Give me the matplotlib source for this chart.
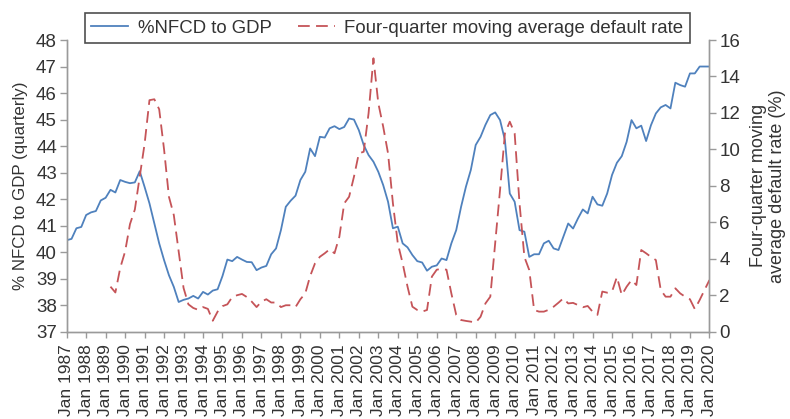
import numpy as np
import matplotlib
matplotlib.use("Agg")
import matplotlib.pyplot as plt

plt.rcParams['font.family'] = ['Liberation Sans', 'DejaVu Sans']

# Quarterly series, 1987 Q1 .. 2020 Q1
start_year = 1987
nfcd_to_gdp = [
    40.45, 40.5, 40.9, 40.95, 41.4, 41.5, 41.55, 41.95,
    42.05, 42.35, 42.25, 42.72, 42.65, 42.6, 42.63, 43.05,
    42.46, 41.84, 41.08, 40.33, 39.7, 39.13, 38.69, 38.12,
    38.2, 38.25, 38.35, 38.25, 38.5, 38.4, 38.55, 38.6,
    39.1, 39.72, 39.66, 39.82, 39.72, 39.63, 39.62, 39.32,
    39.42, 39.48, 39.92, 40.14, 40.83, 41.71, 41.94, 42.13,
    42.72, 43.03, 43.91, 43.62, 44.35, 44.32, 44.67, 44.75,
    44.64, 44.72, 45.04, 45.0, 44.6, 44.04, 43.66, 43.41,
    43.03, 42.53, 41.9, 40.9, 40.96, 40.33, 40.18, 39.89,
    39.66, 39.61, 39.3, 39.45, 39.5, 39.76, 39.7, 40.33,
    40.83, 41.71, 42.47, 43.1, 44.04, 44.35, 44.8, 45.17,
    45.27, 44.98, 44.23, 42.21, 41.9, 40.83, 40.77, 39.82,
    39.92, 39.92, 40.33, 40.43, 40.14, 40.08, 40.58, 41.08,
    40.89, 41.27, 41.61, 41.46, 42.09, 41.8, 41.75, 42.21,
    42.91, 43.37, 43.62, 44.16, 44.98, 44.67, 44.77, 44.19,
    44.79, 45.23, 45.46, 45.55, 45.42, 46.39, 46.3, 46.24,
    46.74, 46.74, 47.0, 47.0, 47.0,
]

# Four-quarter moving average default rate, first value in 1989 Q2
default_start_index = 9
default_rate = [
    2.47, 2.15, 3.5, 4.4, 5.9, 6.7, 8.5, 10.3,
    12.7, 12.75, 12.2, 10.0, 7.4, 6.4, 4.4, 2.4,
    1.5, 1.3, 1.2, 1.35, 1.25, 0.6, 1.1, 1.4,
    1.5, 1.9, 2.0, 2.07, 1.9, 1.65, 1.35, 1.65,
    1.78, 1.6, 1.6, 1.35, 1.45, 1.45, 1.35, 1.78,
    2.1, 3.05, 3.75, 4.11, 4.3, 4.52, 4.3, 5.21,
    7.04, 7.4, 8.5, 9.78, 9.87, 11.98, 15.0, 12.53,
    11.25, 9.78, 7.04, 4.85, 3.75, 2.47, 1.37, 1.19,
    1.1, 1.19, 3.02, 3.4, 3.45, 3.4, 2.1, 0.92,
    0.64, 0.59, 0.55, 0.5, 0.82, 1.55, 1.92, 4.85,
    7.77, 10.88, 11.52, 10.88, 7.04, 4.1, 3.38, 1.19,
    1.1, 1.1, 1.2, 1.37, 1.59, 1.83, 1.55, 1.58,
    1.46, 1.34, 1.41, 1.1, 0.92, 2.2, 2.14, 2.2,
    3.0, 2.01, 2.47, 2.83, 2.56, 4.48, 4.3, 4.1,
    3.93, 2.29, 1.92, 1.92, 2.38, 2.1, 1.92, 1.78,
    1.24, 1.74, 2.29, 2.83,
]

tick_years = list(range(1987, 2021))
tick_labels = [f"Jan {y}" for y in tick_years]
left_ticks = list(range(37, 49))
right_ticks = list(range(0, 17, 2))

blue = "#4f81bd"
red = "#c55458"
spine_gray = "#9a9a9a"
text_col = "#333333"

t_nfcd = start_year + np.arange(len(nfcd_to_gdp)) / 4.0
t_def = start_year + (default_start_index + np.arange(len(default_rate))) / 4.0

fig = plt.figure(figsize=(7.9, 4.19), dpi=100)
ax = fig.add_axes([0.0844, 0.2084, 0.8136, 0.6961])
ax2 = ax.twinx()

l1, = ax.plot(t_nfcd, nfcd_to_gdp, color=blue, lw=1.3, label="%NFCD to GDP")
l2, = ax2.plot(t_def, default_rate, color=red, lw=1.3, ls=(0, (6.5, 3.5)),
               label="Four-quarter moving average default rate")

ax.set_xlim(1987, 2020)
ax.set_ylim(37, 48)
ax2.set_ylim(0, 16)
ax.set_xticks(tick_years)
ax.set_xticklabels(tick_labels, rotation=90, fontsize=12.5, color=text_col)
ax.set_yticks(left_ticks)
ax.set_yticklabels([str(v) for v in left_ticks], fontsize=13.5, color=text_col)
ax2.set_yticks(right_ticks)
ax2.set_yticklabels([str(v) for v in right_ticks], fontsize=13.5, color=text_col)

for a in (ax, ax2):
    a.spines['top'].set_visible(False)
    for s in ('left', 'right', 'bottom'):
        a.spines[s].set_color(spine_gray)
        a.spines[s].set_linewidth(1.0)
    a.tick_params(colors=spine_gray, length=5, width=1.0, labelcolor=text_col)
ax.tick_params(axis='x', length=4, pad=5)
ax.tick_params(axis='y', pad=2)
ax2.tick_params(axis='y', pad=2)

ax.set_ylabel("% NFCD to GDP (quarterly)", fontsize=12.2, color=text_col, labelpad=6)
ax2.set_ylabel("Four-quarter moving\naverage default rate (%)", fontsize=13.0,
               color=text_col, rotation=90, labelpad=7, va='top')

leg = fig.legend(handles=[l1, l2], loc='upper center', bbox_to_anchor=(0.49, 0.968),
                 ncol=2, fontsize=13.4, frameon=True, fancybox=False,
                 edgecolor='#222222', borderaxespad=0, handlelength=2.0,
                 columnspacing=1.4, handletextpad=0.5, borderpad=0.35)
leg.get_frame().set_linewidth(1.2)
for txt in leg.get_texts():
    txt.set_color(text_col)

fig.savefig("out.png", dpi=100)
